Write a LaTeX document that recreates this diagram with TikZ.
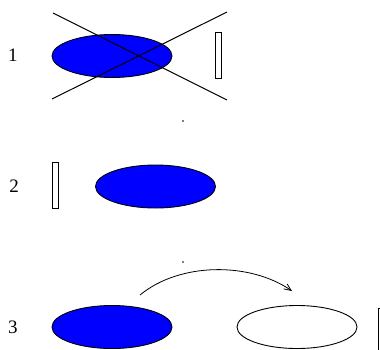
\documentclass[tikz,border=0pt]{standalone}
\usepackage{fontspec}
\setmainfont{Liberation Serif}
\usetikzlibrary{shapes.geometric,arrows.meta}
\begin{document}
\begin{tikzpicture}[x=1pt,y=-1pt,
  ell/.style={ellipse,draw=black,line width=0.9pt,minimum width=120pt,minimum height=43pt,inner sep=0pt},
  blueell/.style={ell,fill=blue},
  whiteell/.style={ell,fill=white},
  bar/.style={rectangle,draw=black,line width=0.8pt,minimum width=6.5pt,minimum height=46pt,inner sep=0pt},
  lbl/.style={font=\fontsize{19}{22}\selectfont,inner sep=0pt},
  crossline/.style={line width=1pt},
  dot/.style={fill=black!50,minimum size=1.5pt,inner sep=0pt}]
\useasboundingbox (0,0) rectangle (380,349);
% row 1
\node[lbl] (l1) at (13,55) {1};
\node[blueell] (e1) at (112,56) {};
\node[bar] (r1) at (218.5,55) {};
\coordinate (c1a) at (53,13);
\coordinate (c1b) at (227,100);
\coordinate (c1c) at (52,99);
\coordinate (c1d) at (227,12);
\draw[crossline] (c1a) -- (c1b);
\draw[crossline] (c1c) -- (c1d);
\node[dot] (d1) at (183,121) {};
% row 2
\node[lbl] (l2) at (14,186) {2};
\node[bar] (r2) at (55.5,185.5) {};
\node[blueell] (e2) at (155.5,186.5) {};
% row 3
\node[dot] (d2) at (183,262) {};
\node[lbl] (l3) at (13,327) {3};
\node[blueell] (e3) at (112,327) {};
\node[whiteell] (e4) at (297,327) {};
\node[bar,anchor=north west] (r3) at (377.5,307.5) {};
\coordinate (a1) at (140,295);
\coordinate (a2) at (292,291);
\draw[line width=0.8pt,-{Straight Barb[length=7pt,width=6pt]}] (a1) .. controls (180,262) and (250,262) .. (a2);
\end{tikzpicture}
\end{document}
